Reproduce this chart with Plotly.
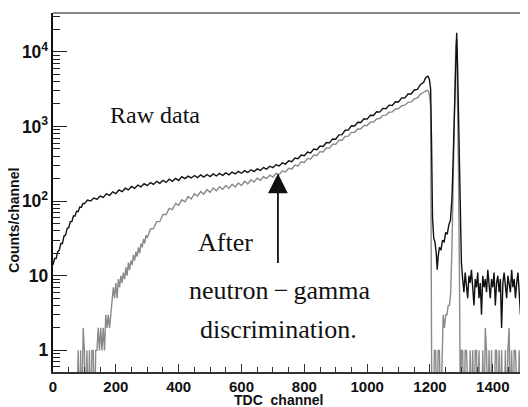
import numpy as np
import plotly.graph_objects as go

# ---- raw TDC spectrum (black), counts per channel ----
raw_ch_a = list(range(0, 101, 5))
raw_a = [14, 17, 17, 21, 22, 27, 27, 34, 35, 43, 44, 53, 53, 63, 63, 73, 72, 83, 82, 93, 92]

raw_ch_b = list(range(110, 1181, 10))
raw_b = [103, 100, 110, 105, 117, 112, 125, 119, 133, 126,
         141, 134, 149, 141, 157, 148, 164, 155, 171, 161,
         177, 167, 184, 173, 190, 178, 196, 184, 201, 189,
         213, 200, 216, 204, 220, 206, 224, 210, 227, 213,
         231, 217, 235, 221, 239, 225, 245, 231, 250, 236,
         256, 242, 263, 248, 270, 257, 281, 268, 293, 280,
         307, 295, 325, 313, 346, 337, 378, 369, 415, 405,
         454, 443, 497, 487, 546, 540, 610, 603, 680, 675,
         772, 777, 890, 893, 1020, 1015, 1140, 1130, 1270, 1255,
         1410, 1400, 1570, 1555, 1745, 1730, 1930, 1910, 2145, 2125,
         2410, 2415, 2720, 2725, 3080, 3140, 3650, 3900]

raw_ch_c = [1185, 1190, 1194, 1198, 1202, 1205, 1208, 1212, 1216, 1220,
            1223, 1226, 1230, 1235, 1240, 1245, 1250, 1255, 1260, 1265,
            1270, 1274, 1278, 1282, 1285, 1288, 1291, 1294, 1297, 1300]
raw_c = [4400, 4650, 4700, 4300, 3200, 600, 60, 32, 28, 20,
         12, 18, 24, 22, 30, 28, 38, 36, 48, 55,
         110, 400, 1500, 7000, 18000, 6000, 1200, 250, 60, 15]

raw_ch_d = list(range(1304, 1516, 4))
raw_d = [9, 6, 11, 7, 5, 10, 8, 12, 6, 4,
         9, 7, 11, 5, 8, 3, 10, 7, 9, 6,
         12, 8, 5, 9, 7, 11, 4, 8, 10, 6,
         9, 2, 8, 11, 7, 5, 10, 8, 6, 12,
         7, 9, 5, 8, 11, 6, 3, 9, 7, 10,
         8, 6, 9]

# ---- after n-gamma discrimination (gray) ----
ng_ch_a = list(range(0, 201, 4))
ng_a = [0] * 20 + [1, 0, 1, 0, 2, 1, 0, 1, 0, 1,
                   0, 1, 1, 0, 1, 1, 2, 1, 2, 1,
                   2, 1, 3, 2, 3, 2, 3, 5, 7, 5,
                   8]

ng_ch_b = list(range(204, 301, 4))
ng_b = [5, 9, 7, 10, 8, 11, 9, 13, 10, 15, 12, 16, 14, 19, 16, 21, 18, 24, 20, 27,
        24, 31, 27, 35, 32]

ng_ch_c = list(range(310, 1181, 10))
ng_c = [42, 43, 53, 53, 66, 66, 80, 77, 93, 88,
        104, 98, 115, 107, 125, 117, 134, 124, 143, 131,
        150, 137, 156, 143, 162, 149, 168, 155, 175, 162,
        184, 170, 193, 180, 203, 190, 213, 200, 223, 210,
        236, 226, 254, 245, 275, 267, 303, 296, 337, 330,
        373, 367, 414, 408, 460, 455, 514, 512, 578, 578,
        652, 654, 737, 742, 832, 836, 925, 930, 1028, 1030,
        1140, 1148, 1262, 1278, 1405, 1418, 1548, 1568, 1712, 1738,
        1895, 1928, 2100, 2135, 2335, 2420, 2710, 2870]

ng_ch_d = [1185, 1190, 1194, 1198, 1202, 1206, 1210, 1214, 1218, 1222,
           1226, 1230, 1234, 1238, 1242, 1246, 1250, 1254, 1258, 1262,
           1266, 1270, 1273, 1276, 1279, 1282, 1285, 1288, 1291, 1294,
           1297, 1300]
ng_d = [2950, 3050, 3000, 2700, 1900, 0, 0, 1, 1, 0,
        1, 1, 0, 1, 3, 2, 3, 3, 4, 4,
        6, 25, 150, 800, 4000, 12000, 15000, 3000, 200, 8,
        0, 1]

ng_ch_e = list(range(1304, 1516, 4))
ng_e = [1, 0, 1, 1, 0, 0, 1, 0, 1, 0,
        1, 1, 0, 1, 0, 0, 1, 0, 2, 1,
        0, 1, 0, 1, 0, 0, 1, 1, 0, 1,
        0, 1, 0, 0, 1, 0, 1, 2, 0, 1,
        0, 1, 1, 0, 0, 1, 0, 1, 0, 1,
        0, 0, 1]

raw_x = raw_ch_a + raw_ch_b + raw_ch_c + raw_ch_d
raw_y = np.array(raw_a + raw_b + raw_c + raw_d, dtype=float)
ng_x = ng_ch_a + ng_ch_b + ng_ch_c + ng_ch_d + ng_ch_e
ng_y = np.array(ng_a + ng_b + ng_c + ng_d + ng_e, dtype=float)
# empty channels sit below the bottom of the log axis
ng_y = np.where(ng_y > 0, ng_y, 0.1)

fig = go.Figure()
fig.add_trace(go.Scatter(x=ng_x, y=ng_y, mode='lines',
                         line=dict(color='#8a8a8a', width=1.4), name='after'))
fig.add_trace(go.Scatter(x=raw_x, y=raw_y, mode='lines',
                         line=dict(color='#111111', width=1.4), name='raw'))

serif = 'Liberation Serif'
def label(txt, x, y, size):
    fig.add_annotation(x=x, y=y, xref='paper', yref='paper', text=txt,
                       xanchor='center', yanchor='middle', showarrow=False,
                       font=dict(family=serif, size=size, color='#111'))

label('Raw data', 0.215, 0.716, 24)
label('After', 0.364, 0.362, 26)
label('neutron\u2009\u2212\u2009gamma', 0.476, 0.228, 26)
label('discrimination.', 0.474, 0.117, 26)

# arrow pointing at the gated spectrum
fig.add_annotation(x=716, y=np.log10(235), xref='x', yref='y', text='',
                   showarrow=True, ax=0, ay=91, arrowhead=2, arrowsize=2.2,
                   arrowwidth=1.8, arrowcolor='#111', standoff=0)

fig.add_annotation(x=719, y=0, xref='x', yref='paper', yshift=-28, yanchor='middle',
                   text='<b>TDC  channel</b>', showarrow=False,
                   font=dict(family='Liberation Sans', size=14, color='#111'))
fig.add_annotation(x=-0.081, y=0.423, xref='paper', yref='paper', textangle=-90,
                   text='<b>Counts/channel</b>', showarrow=False,
                   xanchor='center', yanchor='middle',
                   font=dict(family='Liberation Sans', size=14, color='#111'))

fig.add_shape(type='line', xref='paper', yref='paper', x0=0, x1=1, y0=1, y1=1,
              line=dict(color='#8a8a8a', width=2))

fig.update_xaxes(range=[0, 1512], showline=True, linecolor='#333', linewidth=1.5,
                 ticks='inside', ticklen=8, tickwidth=1.2, tickcolor='#333', dtick=200,
                 minor=dict(ticks='inside', ticklen=5, dtick=50, tickcolor='#333'),
                 showgrid=False, zeroline=False, automargin=False,
                 tickfont=dict(family='Liberation Sans', size=15, color='#111', weight='bold'))
fig.update_yaxes(type='log', range=[-0.29, 4.52], showline=True, linecolor='#111', linewidth=2,
                 ticks='inside', ticklen=14, tickwidth=1.2, tickcolor='#222', dtick=1,
                 exponentformat='power',
                 minor=dict(ticks='inside', ticklen=7, tickcolor='#222', showgrid=False),
                 showgrid=False, zeroline=False, automargin=False,
                 tickfont=dict(family='Liberation Sans', size=14, color='#111', weight='bold'))

# the page body keeps its default 8px margin, so the figure is 8px smaller each way
fig.update_layout(width=520, height=399, margin=dict(l=45, r=0, t=5, b=35),
                  paper_bgcolor='white', plot_bgcolor='white', showlegend=False)

fig.write_html("out.html")
